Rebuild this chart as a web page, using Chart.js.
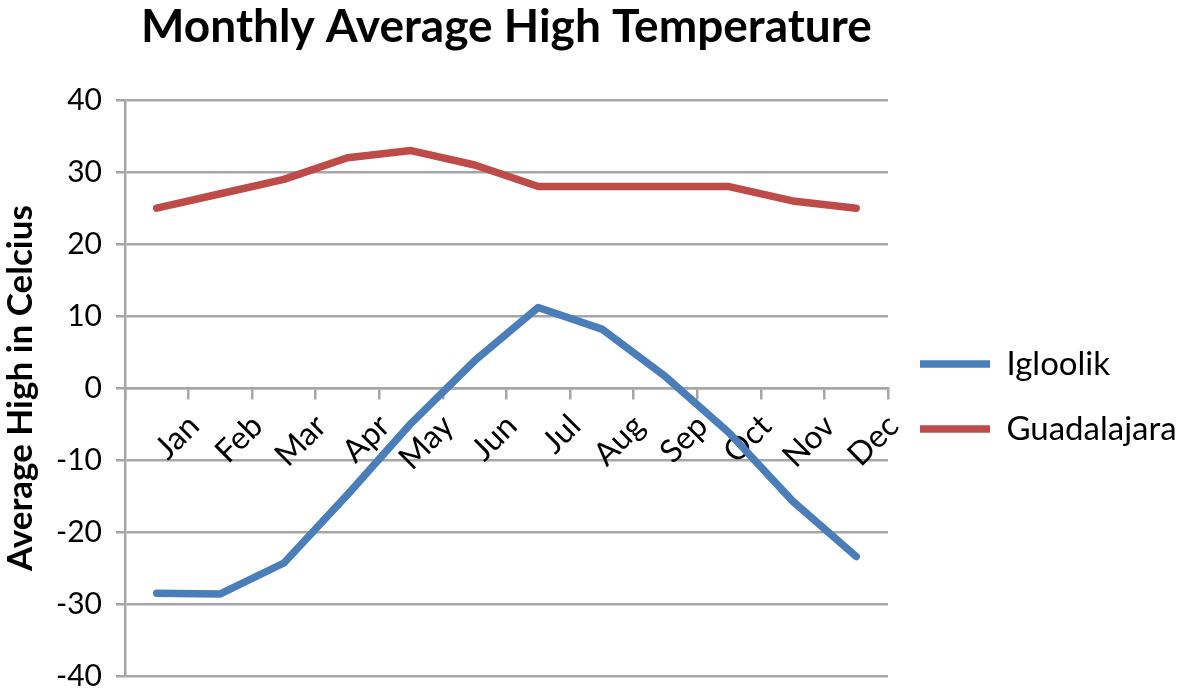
<!DOCTYPE html>
<html>
<head>
<meta charset="utf-8">
<script src="https://cdn.jsdelivr.net/npm/chart.js@4"></script>
<style>
html,body{margin:0;padding:0;background:#fff;}
#wrap{width:1184px;height:696px;}
</style>
</head>
<body>
<div id="wrap"><canvas id="c" width="1184" height="696"></canvas></div>
<script>
const months = ["Jan","Feb","Mar","Apr","May","Jun","Jul","Aug","Sep","Oct","Nov","Dec"];
const igloolik = [-28.5,-28.6,-24.3,-14.8,-4.9,3.8,11.2,8.2,1.6,-6.2,-15.7,-23.4];
const guadalajara = [25,27,29,32,33,31,28,28,28,28,26,25];
const yTicks = [-40,-30,-20,-10,0,10,20,30,40];

const FONT = "Lato, 'Open Sans', sans-serif";
const GRID = "#a6a6a6";

new Chart(document.getElementById('c'), {
  type: 'line',
  data: {
    labels: months,
    datasets: [
      {label: 'Igloolik', data: igloolik, borderColor: '#4a7ebb', backgroundColor: '#4a7ebb',
       borderWidth: 7.5, pointRadius: 0, tension: 0, borderCapStyle: 'round', borderJoinStyle: 'round'},
      {label: 'Guadalajara', data: guadalajara, borderColor: '#be4b48', backgroundColor: '#be4b48',
       borderWidth: 7.5, pointRadius: 0, tension: 0, borderCapStyle: 'round', borderJoinStyle: 'round'}
    ]
  },
  options: {
    responsive: false,
    animation: false,
    devicePixelRatio: 1,
    layout: {padding: {top: 0, bottom: 2, left: 0, right: 0}},
    plugins: {
      title: {display: true, text: 'Monthly Average High Temperature', fullSize: false,
        color: '#000', font: {family: FONT, size: 46, weight: 'bold'}, padding: {top: 0, bottom: 45}},
      legend: {position: 'right', align: 'center', fullSize: false,
        title: {display: true, text: ' ', font: {size: 14}, padding: 0},
        labels: {usePointStyle: true, pointStyle: 'line', pointStyleWidth: 70, boxHeight: 33,
          color: '#000', font: {family: FONT, size: 33}, padding: 32}},
      tooltip: {enabled: false}
    },
    scales: {
      x: {
        type: 'category',
        position: {y: 0},
        offset: true,
        grid: {offset: true, drawOnChartArea: false, drawTicks: true, tickLength: 10, color: GRID, lineWidth: 2.5},
        border: {display: true, color: GRID, width: 2.5},
        ticks: {color: '#000', font: {family: FONT, size: 32}, minRotation: 45, maxRotation: 45,
          labelOffset: 37, padding: 9, autoSkip: false}
      },
      y: {
        type: 'linear',
        min: -40, max: 40,
        afterBuildTicks: (s) => { s.ticks = yTicks.map(v => ({value: v})); },
        afterFit: (s) => { s.paddingBottom = 20; },
        grid: {color: GRID, lineWidth: 2.5, drawTicks: true, tickLength: 9},
        border: {display: true, color: GRID, width: 2.5},
        ticks: {color: '#000', font: {family: FONT, size: 30}, padding: 14},
        title: {display: true, text: 'Average High in Celcius', color: '#000',
          font: {family: FONT, size: 35, weight: 'bold'}, padding: {top: 0, bottom: 0}}
      }
    }
  }
});
</script>
</body>
</html>
